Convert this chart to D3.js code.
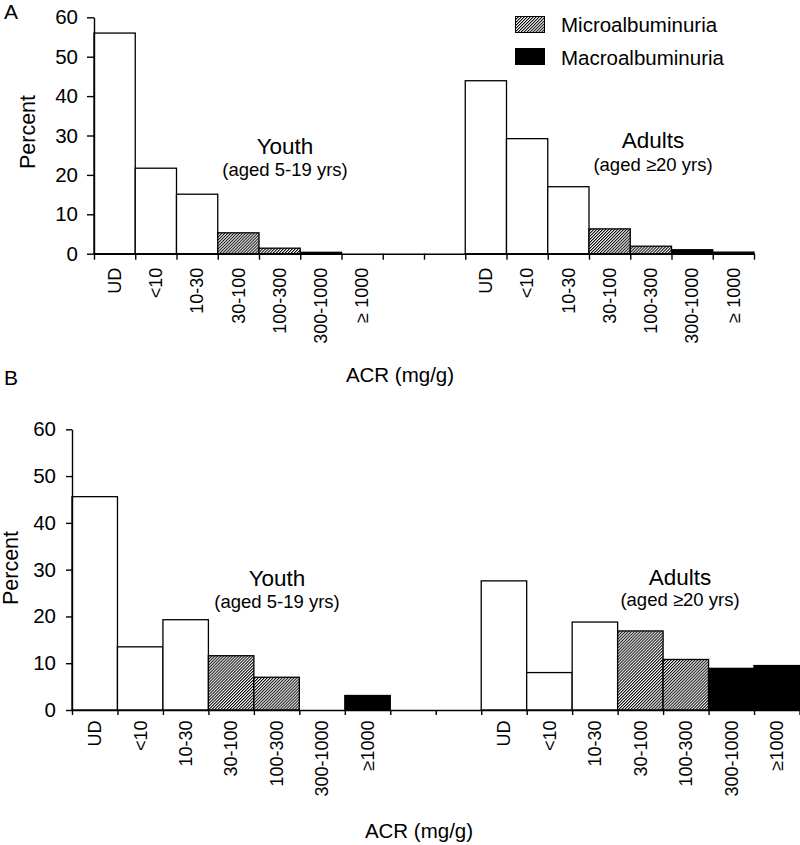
<!DOCTYPE html>
<html>
<head>
<meta charset="utf-8">
<script src="https://cdn.jsdelivr.net/npm/d3@7"></script>
<style>
html,body{margin:0;padding:0;background:#fff;}
svg{display:block;font-family:"Liberation Sans",Arial,Helvetica,sans-serif;}
</style>
</head>
<body>
<svg id="chart" width="800" height="845"></svg>
<script>
// ---- data ----
const categories = ["UD", "<10", "10-30", "30-100", "100-300", "300-1000", "≥1000"];
const tickLabelsA = ["UD", "<10", "10-30", "30-100", "100-300", "300-1000", "≥ 1000"];
const tickLabelsB = ["UD", "<10", "10-30", "30-100", "100-300", "300-1000", "≥1000"];
const categoryClass = ["normal", "normal", "normal", "micro", "micro", "macro", "macro"];
const youthA = [56.0, 21.7, 15.1, 5.3, 1.4, 0.35, 0];
const adultsA = [43.9, 29.2, 17.0, 6.3, 1.9, 1.0, 0.4];
const youthB = [45.6, 13.5, 19.3, 11.6, 7.0, 0, 3.1];
const adultsB = [27.6, 8.0, 18.8, 16.9, 10.8, 8.9, 9.5];
const yTicks = [0, 10, 20, 30, 40, 50, 60];
const legendItems = [{label: "Microalbuminuria", cls: "micro"}, {label: "Macroalbuminuria", cls: "macro"}];

const svg = d3.select("#chart");
svg.append("rect").attr("width", 800).attr("height", 845).attr("fill", "#fff");

const defs = svg.append("defs");
const pw = 2.1;
const pat = defs.append("pattern").attr("id", "hatch")
  .attr("patternUnits", "userSpaceOnUse").attr("width", pw).attr("height", pw)
  .attr("patternTransform", "rotate(45)");
pat.append("rect").attr("width", pw).attr("height", pw).attr("fill", "#fff");
pat.append("line").attr("x1", 0.5).attr("y1", 0).attr("x2", 0.5).attr("y2", pw)
  .attr("stroke", "#000").attr("stroke-width", 1.0);

function fillFor(cls) {
  return cls === "micro" ? "url(#hatch)" : (cls === "macro" ? "#000" : "#fff");
}

// slots: 7 youth + 2 gap + 7 adults
const slots = categories.map((c, i) => "Y" + i).concat(["g1", "g2"]).concat(categories.map((c, i) => "A" + i));

function panel(cfg) {
  const g = svg.append("g");
  const x = d3.scaleBand().domain(slots).range([cfg.x0, cfg.x1]).padding(0);
  const y = d3.scaleLinear().domain([0, 60]).range([cfg.yBottom, cfg.yTop]);
  const xl = d3.scaleLinear().domain([0, slots.length]).range([cfg.x0, cfg.x1]);

  const rows = [];
  cfg.youth.forEach((v, i) => rows.push({key: "Y" + i, v, cls: categoryClass[i]}));
  cfg.adults.forEach((v, i) => rows.push({key: "A" + i, v, cls: categoryClass[i]}));

  g.selectAll("rect.bar").data(rows.filter(d => d.v > 0)).join("rect")
    .attr("class", "bar")
    .attr("x", d => x(d.key)).attr("width", x.bandwidth())
    .attr("y", d => y(d.v)).attr("height", d => y(0) - y(d.v))
    .attr("fill", d => fillFor(d.cls))
    .attr("stroke", "#000").attr("stroke-width", 1.3);

  // y axis
  const ya = g.append("g").attr("transform", `translate(${cfg.x0},0)`)
    .call(d3.axisLeft(y).tickValues(yTicks).tickSize(cfg.yTick).tickSizeOuter(0).tickPadding(cfg.yPad));
  ya.select(".domain").attr("stroke", "#000").attr("stroke-width", 1.4);
  ya.selectAll(".tick line").attr("stroke", "#000").attr("stroke-width", 1.4);
  ya.selectAll(".tick text").attr("font-size", 20.5).attr("fill", "#000")
    .attr("font-family", "Liberation Sans, Arial, sans-serif");

  // x axis with ticks at slot boundaries
  const xa = g.append("g").attr("transform", `translate(0,${cfg.yBottom})`)
    .call(d3.axisBottom(xl).tickValues(d3.range(slots.length + 1)).tickSize(cfg.xTick).tickSizeOuter(0).tickFormat(""));
  xa.select(".domain").attr("stroke", "#000").attr("stroke-width", 1.4);
  xa.selectAll(".tick line").attr("stroke", "#000").attr("stroke-width", 1.4);

  // rotated category labels
  const labs = [];
  cfg.labels.forEach((t, i) => { labs.push({key: "Y" + i, t}); labs.push({key: "A" + i, t}); });
  g.selectAll("text.cat").data(labs).join("text").attr("class", "cat")
    .attr("transform", d => `translate(${x(d.key) + x.bandwidth() / 2},${cfg.yBottom + cfg.labOff}) rotate(-90)`)
    .attr("text-anchor", "end").attr("dy", "0.35em")
    .attr("font-size", 18).attr("fill", "#000").text(d => d.t);

  // y title
  g.append("text").attr("transform", `translate(${cfg.pctX},${cfg.pctY}) rotate(-90)`)
    .attr("text-anchor", "middle").attr("font-size", 21.5).text("Percent");
  // x title
  g.append("text").attr("x", cfg.acrX).attr("y", cfg.acrY).attr("text-anchor", "middle")
    .attr("font-size", 20.5).text("ACR (mg/g)");
  // panel letter
  g.append("text").attr("x", 4).attr("y", cfg.letterY).attr("font-size", 21).text(cfg.letter);

  // group annotations
  cfg.groups.forEach(gr => {
    g.append("text").attr("x", gr.x).attr("y", gr.y1).attr("text-anchor", "middle")
      .attr("font-size", 22.5).text(gr.title);
    g.append("text").attr("x", gr.x).attr("y", gr.y2).attr("text-anchor", "middle")
      .attr("font-size", 18.5).text(gr.sub);
  });
}

panel({
  x0: 94, x1: 754, yTop: 17.3, yBottom: 253.7, yTick: 7, yPad: 9, xTick: 6, labOff: 14,
  youth: youthA, adults: adultsA, labels: tickLabelsA,
  pctX: 35, pctY: 132, acrX: 400, acrY: 382, letter: "A", letterY: 19,
  groups: [
    {x: 285, y1: 154, y2: 176, title: "Youth", sub: "(aged 5-19 yrs)"},
    {x: 653, y1: 148, y2: 171, title: "Adults", sub: "(aged ≥20 yrs)"}
  ]
});

panel({
  x0: 72, x1: 799.5, yTop: 429.3, yBottom: 710, yTick: 6, yPad: 10, xTick: 5, labOff: 10.5,
  youth: youthB, adults: adultsB, labels: tickLabelsB,
  pctX: 18, pctY: 568, acrX: 419, acrY: 838, letter: "B", letterY: 385,
  groups: [
    {x: 277, y1: 586, y2: 608, title: "Youth", sub: "(aged 5-19 yrs)"},
    {x: 680, y1: 585, y2: 606, title: "Adults", sub: "(aged ≥20 yrs)"}
  ]
});

// legend
const lg = svg.append("g");
legendItems.forEach((d, i) => {
  lg.append("rect").attr("x", 515.5).attr("y", 16.5 + i * 32).attr("width", 29).attr("height", 16)
    .attr("fill", fillFor(d.cls)).attr("stroke", "#000").attr("stroke-width", 1);
  lg.append("text").attr("x", 561).attr("y", 31.5 + i * 33).attr("font-size", 20.5).text(d.label);
});
</script>
</body>
</html>
